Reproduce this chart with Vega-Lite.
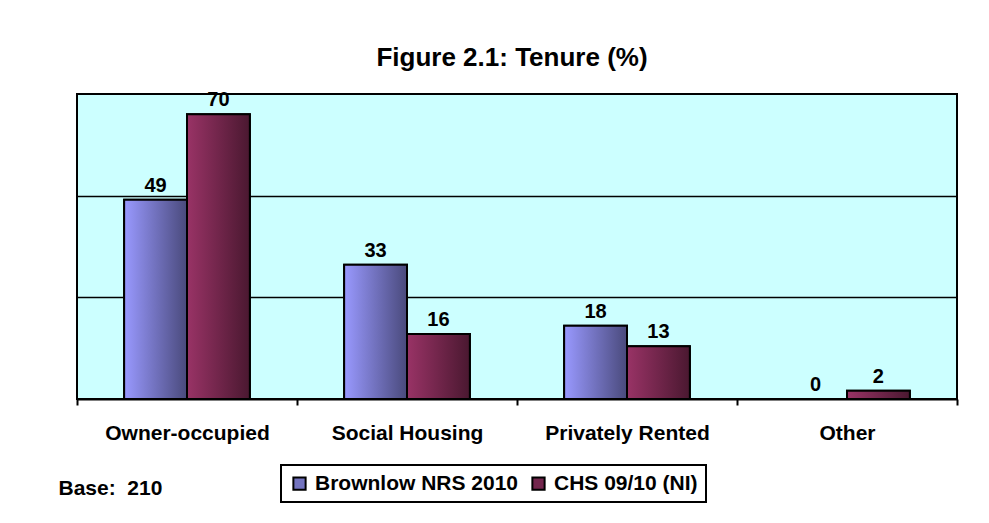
{
  "$schema": "https://vega.github.io/schema/vega-lite/v6.json",
  "width": 880,
  "height": 305,
  "autosize": {"type": "none"},
  "padding": {"left": 77, "top": 94, "right": 32, "bottom": 124},
  "background": "white",
  "title": {
    "text": "Figure 2.1: Tenure (%)",
    "font": "Liberation Sans",
    "fontSize": 26,
    "fontWeight": "bold",
    "color": "black",
    "anchor": "middle",
    "baseline": "alphabetic",
    "dx": -5,
    "offset": -2
  },
  "data": {
    "values": [
      {"tenure": "Owner-occupied", "series": "Brownlow NRS 2010", "value": 49},
      {"tenure": "Owner-occupied", "series": "CHS 09/10 (NI)", "value": 70},
      {"tenure": "Social Housing", "series": "Brownlow NRS 2010", "value": 33},
      {"tenure": "Social Housing", "series": "CHS 09/10 (NI)", "value": 16},
      {"tenure": "Privately Rented", "series": "Brownlow NRS 2010", "value": 18},
      {"tenure": "Privately Rented", "series": "CHS 09/10 (NI)", "value": 13},
      {"tenure": "Other", "series": "Brownlow NRS 2010", "value": 0},
      {"tenure": "Other", "series": "CHS 09/10 (NI)", "value": 2}
    ]
  },
  "encoding": {
    "x": {
      "field": "tenure",
      "type": "nominal",
      "sort": ["Owner-occupied", "Social Housing", "Privately Rented", "Other"],
      "scale": {"paddingInner": 0, "paddingOuter": 0},
      "axis": {
        "title": "Base:\u00a0 210",
        "titleFont": "Liberation Sans",
        "titleFontSize": 21,
        "titleFontWeight": "bold",
        "titleColor": "black",
        "titleX": -19,
        "titleY": 95,
        "titleAlign": "left",
        "titleBaseline": "alphabetic",
        "labelAngle": 0,
        "labelFont": "Liberation Sans",
        "labelFontSize": 21,
        "labelFontWeight": "bold",
        "labelColor": "black",
        "labelPadding": 17,
        "labelLimit": 300,
        "tickBand": "extent",
        "tickColor": "black",
        "tickWidth": 2,
        "tickSize": 6,
        "domainColor": "black",
        "domainWidth": 2,
        "grid": false
      }
    },
    "xOffset": {
      "field": "series",
      "type": "nominal",
      "scale": {"domain": ["Brownlow NRS 2010", "CHS 09/10 (NI)"], "paddingInner": 0, "paddingOuter": 0.75}
    },
    "y": {
      "field": "value",
      "type": "quantitative",
      "scale": {"domain": [0, 75], "nice": false},
      "axis": {
        "title": null,
        "values": [25, 50],
        "labels": false,
        "ticks": false,
        "domain": false,
        "grid": true,
        "gridColor": "black",
        "gridWidth": 1.5,
        "gridOpacity": 1
      }
    }
  },
  "layer": [
    {
      "mark": {"type": "bar", "stroke": "black", "strokeWidth": 2},
      "encoding": {
        "color": {
          "field": "series",
          "type": "nominal",
          "scale": {"domain": ["Brownlow NRS 2010", "CHS 09/10 (NI)"], "range": ["#7373bf", "#73264d"]},
          "legend": {
            "title": null,
            "orient": "none",
            "direction": "horizontal",
            "legendX": 204,
            "legendY": 371,
            "strokeColor": "black",
            "fillColor": "white",
            "padding": 8,
            "symbolType": "square",
            "symbolSize": 150,
            "symbolStrokeColor": "black",
            "symbolStrokeWidth": 2,
            "symbolOpacity": 1,
            "labelFont": "Liberation Sans",
            "labelFontSize": 21,
            "labelFontWeight": "bold",
            "labelColor": "black",
            "labelOffset": 5,
            "labelLimit": 300,
            "columnPadding": 9,
            "encode": {
              "legend": {"update": {"strokeWidth": {"value": 2}}}
            }
          }
        }
      }
    },
    {
      "transform": [{"filter": "datum.series === 'Brownlow NRS 2010'"}],
      "mark": {
        "type": "bar",
        "stroke": "black",
        "strokeWidth": 2,
        "fill": {"gradient": "linear", "x1": 0, "y1": 0, "x2": 1, "y2": 0, "stops": [{"offset": 0, "color": "#9999ff"}, {"offset": 1, "color": "#4a4a7c"}]}
      }
    },
    {
      "transform": [{"filter": "datum.series === 'CHS 09/10 (NI)'"}],
      "mark": {
        "type": "bar",
        "stroke": "black",
        "strokeWidth": 2,
        "fill": {"gradient": "linear", "x1": 0, "y1": 0, "x2": 1, "y2": 0, "stops": [{"offset": 0, "color": "#993366"}, {"offset": 1, "color": "#4a1830"}]}
      }
    },
    {
      "mark": {
        "type": "text",
        "baseline": "alphabetic",
        "dy": -8,
        "font": "Liberation Sans",
        "fontSize": 20,
        "fontWeight": "bold",
        "color": "black"
      },
      "encoding": {"text": {"field": "value", "type": "quantitative"}}
    }
  ],
  "config": {
    "view": {"fill": "#ccffff", "stroke": "black", "strokeWidth": 2}
  }
}
